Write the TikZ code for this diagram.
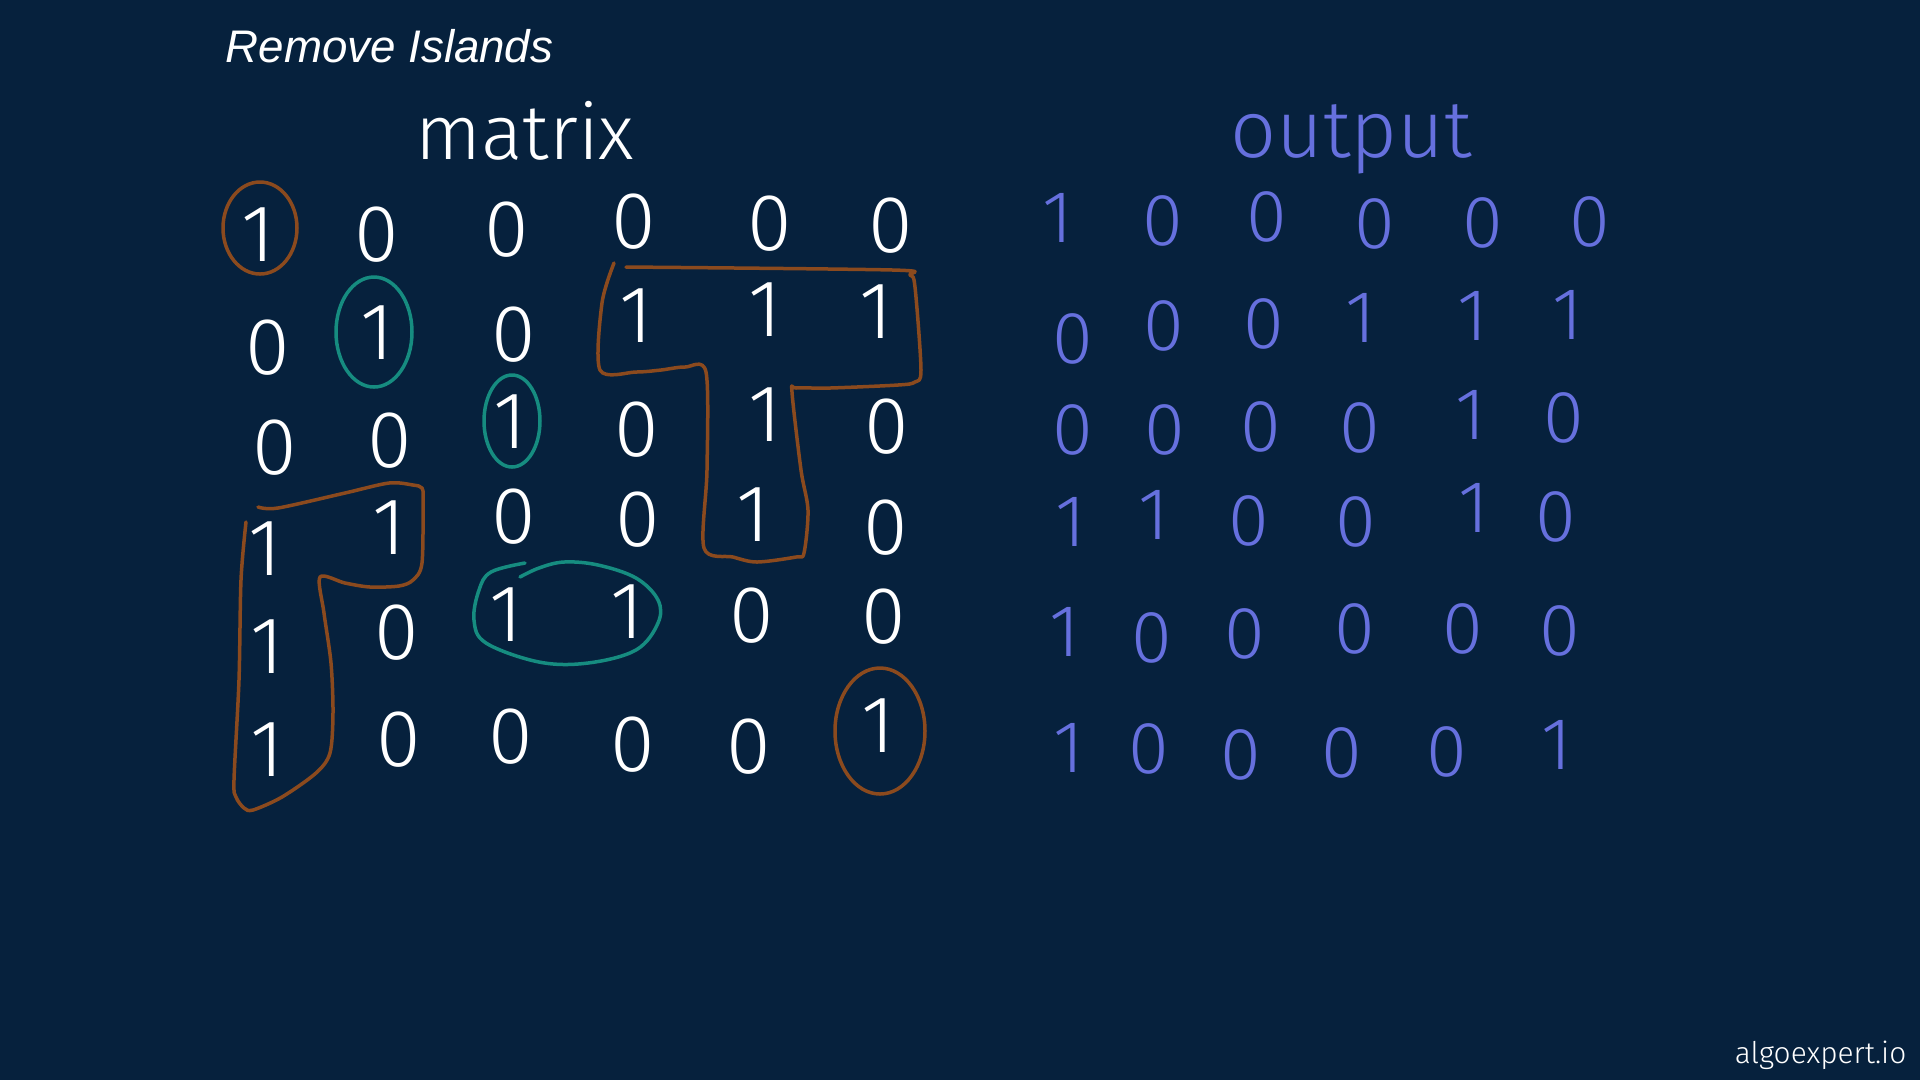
\documentclass[tikz,border=0pt]{standalone}
\usepackage{fontspec}
\setmainfont{Liberation Sans}
\newfontfamily\handfont{Fira Sans Light}
\definecolor{board}{HTML}{06213D}
\definecolor{landbrown}{HTML}{8B4A1E}
\definecolor{landteal}{HTML}{168C80}
\definecolor{outblue}{HTML}{6670DE}

\begin{document}
\begin{tikzpicture}[x=0.1mm, y=-0.1mm,
  cell/.style={text=white, inner sep=0pt, font=\handfont\fontsize{23}{23}\selectfont},
  outcell/.style={cell, text=outblue, font=\handfont\fontsize{21}{21}\selectfont},
  border/.style={landbrown, line width=0.35mm, line join=round, line cap=round},
  inside/.style={border, landteal}]
\fill[board] (0,0) rectangle (1920,1080);
\useasboundingbox (0,0) rectangle (1920,1080);

\node[anchor=base west, inner sep=0pt, text=white, font=\itshape\fontsize{13}{13}\selectfont] (title) at (225,62) {Remove Islands};
\node[anchor=base, text=white, font=\handfont\fontsize{22}{22}\selectfont] (matrixlabel) at (525,159) {matrix};
\node[anchor=base, text=outblue, font=\handfont\fontsize{23}{23}\selectfont] (outputlabel) at (1351,157) {output};

% input matrix, x/y/value for each cell
\foreach \r/\row in {
    0/{258/235/1, 377/235/0, 507/230/0, 634/222/0, 770/224/0, 891/226/0},
    1/{268/348/0, 377/333/1, 514/335/0, 636/316/1, 765/310/1, 876/312/1},
    2/{275/448/0, 390/441/0, 510/422/1, 637/430/0, 765/415/1, 887/427/0},
    3/{265/549/1, 389/528/1, 514/517/0, 638/520/0, 753/515/1, 886/528/0},
    4/{267/647/1, 397/633/0, 506/615/1, 627/612/1, 752/616/0, 884/617/0},
    5/{267/750/1, 399/740/0, 511/737/0, 633/745/0, 749/747/0, 878/726/1}}
  \foreach \x/\y/\v [count=\c from 0] in \row
    \node[cell] (m-\r-\c) at (\x,\y) {\v};

% output matrix
\foreach \r/\row in {
    0/{1058/218/1, 1163/221/0, 1267/217/0, 1375/224/0, 1483/223/0, 1590/222/0},
    1/{1073/339/0, 1164/326/0, 1264/324/0, 1361/318/1, 1473/316/1, 1568/315/1},
    2/{1073/430/0, 1165/430/0, 1261/427/0, 1360/428/0, 1471/415/1, 1564/418/0},
    3/{1071/522/1, 1154/515/1, 1249/521/0, 1356/522/0, 1474/508/1, 1556/517/0},
    4/{1065/632/1, 1152/638/0, 1245/634/0, 1355/629/0, 1463/629/0, 1560/631/0},
    5/{1069/748/1, 1149/749/0, 1241/755/0, 1342/753/0, 1447/752/0, 1557/745/1}}
  \foreach \x/\y/\v [count=\c from 0] in \row
    \node[outcell] (o-\r-\c) at (\x,\y) {\v};

% islands touching the border
\draw[border] (260,228) ellipse [x radius=37, y radius=46];
\draw[border] (880,731) ellipse [x radius=45, y radius=63];
\draw[border] plot[smooth, tension=0.5] coordinates {(626,267) (893,270) (910,275) (915,287) (921,370) (915,382) (898,385) (830,388) (796,388) (792,392) (801,470) (808,510) (804,553) (796,557) (757,562) (733,557) (704,548) (707,470) (706,372) (685,367) (661,370) (636,372) (600,370) (602,303) (614,263)};
\draw[border] plot[smooth, tension=0.5] coordinates {(258,507) (278,508) (345,493) (389,483) (413,485) (422,488) (423,500) (422,563) (413,580) (399,586) (370,587) (345,583) (320,577) (324,613) (331,663) (333,713) (330,753) (316,773) (282,797) (253,810) (244,808) (236,797) (234,780) (239,680) (241,580) (246,522)};

% islands to remove
\draw[inside] (374,332) ellipse [x radius=38, y radius=55];
\draw[inside] (512,421) ellipse [x radius=28, y radius=46];
\draw[inside] plot[smooth, tension=0.6] coordinates {(525,563) (491,572) (479,590) (474,620) (486,643) (539,662) (588,663) (636,650) (658,623) (658,600) (636,578) (598,565) (564,562) (539,568) (520,577)};

\node[anchor=base east, inner sep=0pt, text=white, font=\handfont\fontsize{8.5}{8.5}\selectfont] (logo) at (1907,1063) {algoexpert.io};
\end{tikzpicture}
\end{document}
